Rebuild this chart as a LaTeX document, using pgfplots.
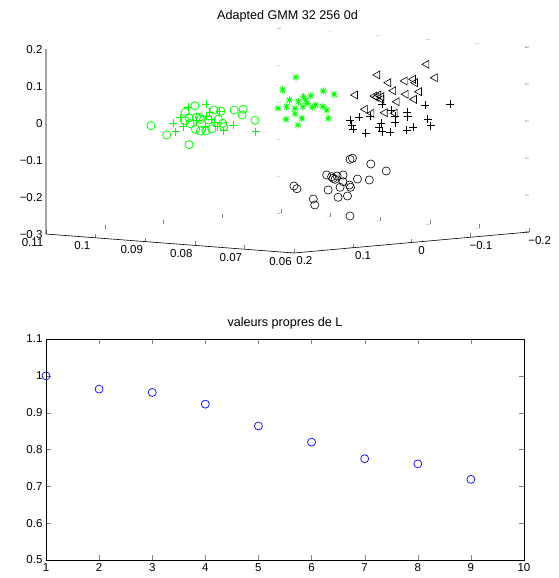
\documentclass[border=0pt]{standalone}
\usepackage{fontspec}
\setmainfont{Liberation Sans}
\usepackage{pgfplots}
\pgfplotsset{compat=1.18}

% matlab '*' marker: plus and cross together
\pgfdeclareplotmark{mstar}{%
  \pgfpathmoveto{\pgfqpoint{-\pgfplotmarksize}{0pt}}%
  \pgfpathlineto{\pgfqpoint{\pgfplotmarksize}{0pt}}%
  \pgfpathmoveto{\pgfqpoint{0pt}{-\pgfplotmarksize}}%
  \pgfpathlineto{\pgfqpoint{0pt}{\pgfplotmarksize}}%
  \pgfpathmoveto{\pgfqpoint{-0.707\pgfplotmarksize}{-0.707\pgfplotmarksize}}%
  \pgfpathlineto{\pgfqpoint{0.707\pgfplotmarksize}{0.707\pgfplotmarksize}}%
  \pgfpathmoveto{\pgfqpoint{-0.707\pgfplotmarksize}{0.707\pgfplotmarksize}}%
  \pgfpathlineto{\pgfqpoint{0.707\pgfplotmarksize}{-0.707\pgfplotmarksize}}%
  \pgfusepathqstroke}
% plain plus, same construction
\pgfdeclareplotmark{mplus}{%
  \pgfpathmoveto{\pgfqpoint{-\pgfplotmarksize}{0pt}}%
  \pgfpathlineto{\pgfqpoint{\pgfplotmarksize}{0pt}}%
  \pgfpathmoveto{\pgfqpoint{0pt}{-\pgfplotmarksize}}%
  \pgfpathlineto{\pgfqpoint{0pt}{\pgfplotmarksize}}%
  \pgfusepathqstroke}

\definecolor{mgreen}{rgb}{0,1,0}

\pgfplotsset{
  mlab/.style={
    tick label style={font=\fontsize{11.5}{13}\selectfont},
    title style={font=\fontsize{12.6}{14}\selectfont},
    /pgf/number format/assume math mode=true,
    scaled ticks=false,
    clip=false,
  },
}

\begin{document}
\begin{tikzpicture}
\useasboundingbox (0pt,0pt) rectangle (559pt,-578pt);

% ---- top: 3-D scatter
\begin{axis}[
  mlab,
  at={(46pt,-253pt)}, anchor=south west,
  x={(-4960pt,380pt)}, y={(-587.5pt,-52.5pt)}, z={(0pt,370pt)},
  xmin=0.06, xmax=0.11, ymin=-0.2, ymax=0.2, zmin=-0.3, zmax=0.2,
  xtick={0.06,0.07,0.08,0.09,0.1,0.11},
  xticklabels={0.06,0.07,0.08,0.09,0.1,0.11},
  ytick={-0.2,-0.1,0,0.1,0.2},
  yticklabels={−0.2,−0.1,0,0.1,0.2},
  ztick={-0.3,-0.2,-0.1,0,0.1,0.2},
  zticklabels={−0.3,−0.2,−0.1,0,0.1,0.2},
  x tick label style={xshift=-6pt},
  y tick label style={xshift=3pt},
  axis line style={draw=none},
  tick pos=left,
  major tick length=4pt,
  title={Adapted GMM 32 256 0d},
  title style={yshift=-4pt},
]
\addplot3[black, line width=0.6pt, no marks] coordinates {
  (0.11,0.2,0.2) (0.11,0.2,-0.3) (0.06,0.2,-0.3) (0.06,-0.2,-0.3)};

% green circles
\addplot3[only marks, mark=o, mgreen, mark size=4.1pt, line width=0.8pt] coordinates {
(0.1007,0.1,-0.0119) (0.0975,0.1,-0.0338) (0.0930,0.1,-0.0553) (0.0938,0.1,0.0314)
(0.0918,0.1,0.0512) (0.0938,0.1,0.0086) (0.0930,0.1,0.0176) (0.0928,0.1,0.0016)
(0.0915,0.1,0.0203) (0.0909,0.1,0.0208) (0.0907,0.1,0.0157) (0.0917,0.1,-0.0125)
(0.0907,0.1,-0.0159) (0.0896,0.1,-0.0148) (0.0884,0.1,-0.0075) (0.0880,0.1,0.0436)
(0.0866,0.1,0.0422) (0.0862,0.1,0.0094) (0.0860,0.1,0.0005) (0.0871,0.1,0.0193)
(0.0839,0.1,0.0477) (0.0821,0.1,0.0515) (0.0823,0.1,0.0359) (0.0797,0.1,0.0242)
(0.0891,0.1,0.0154)
};
% green plus
\addplot3[only marks, mark=mplus, draw=mgreen, mark options={draw=mgreen}, mark size=4pt, line width=0.8pt] coordinates {
(0.0896,0.1,0.0572) (0.0932,0.1,0.0455) (0.0962,0.1,-0.0008) (0.0957,0.1,-0.0230)
(0.0948,0.1,0.0157) (0.0888,0.1,0.0365) (0.0896,0.1,0.0257) (0.0868,0.1,0.0402)
(0.0878,0.1,0.0095) (0.0873,0.1,-0.0009) (0.0860,0.1,-0.0103) (0.0841,0.1,0.0070)
(0.0796,0.1,-0.0064) (0.0915,0.1,0.0111) (0.0884,0.1,0.0179) (0.0942,0.1,-0.0079)
(0.0898,0.1,-0.0034)
};
% green stars
\addplot3[only marks, mark=mstar, mgreen, mark size=3.6pt, line width=0.8pt] coordinates {
(0.0833,0,0.1226) (0.0860,0,0.0855) (0.0778,0,0.0912) (0.0756,0,0.0845)
(0.0803,0,0.0759) (0.0818,0,0.0716) (0.0846,0,0.0598) (0.0828,0,0.0571)
(0.0810,0,0.0546) (0.0793,0,0.0518) (0.0779,0,0.0486) (0.0852,0,0.0412)
(0.0835,0,0.0386) (0.0819,0,0.0445) (0.0771,0,0.0405) (0.0835,0,0.0232)
(0.0853,0,0.0070) (0.0821,0,0.0129) (0.0768,0,0.0185) (0.0829,0,-0.0060)
(0.0869,0,0.0351) (0.0800,0,0.0449) (0.0813,0,0.0633)
};
% black triangles
\addplot3[only marks, mark=triangle, mark options={rotate=90}, black, mark size=4.6pt, line width=0.6pt] coordinates {
(0.0688,-0.1,0.1584) (0.0787,-0.1,0.1194) (0.0671,-0.1,0.1239) (0.0765,-0.1,0.1007)
(0.0732,-0.1,0.1088) (0.0715,-0.1,0.1151) (0.0711,-0.1,0.1063) (0.0755,-0.1,0.0801)
(0.0730,-0.1,0.0731) (0.0703,-0.1,0.0828) (0.0832,-0.1,0.0606) (0.0793,-0.1,0.0619)
(0.0785,-0.1,0.0654) (0.0779,-0.1,0.0615) (0.0779,-0.1,0.0545) (0.0713,-0.1,0.0612)
(0.0748,-0.1,0.0511) (0.0812,-0.1,0.0240) (0.0772,-0.1,0.0190) (0.0799,-0.1,0.0146)
(0.0752,-0.1,0.0194) (0.0789,-0.1,0.0589)
};
% black plus
\addplot3[only marks, mark=mplus, black, mark size=4pt, line width=0.6pt] coordinates {
(0.0641,-0.1,0.0559) (0.0691,-0.1,0.0473) (0.0727,-0.1,0.0255) (0.0726,-0.1,0.0129)
(0.0842,-0.1,-0.0080) (0.0824,-0.1,0.0012) (0.0802,-0.1,0.0061) (0.0759,-0.1,0.0276)
(0.0752,-0.1,0.0121) (0.0752,-0.1,-0.0061) (0.0686,-0.1,0.0108) (0.0680,-0.1,-0.0067)
(0.0715,-0.1,-0.0146) (0.0728,-0.1,-0.0233) (0.0783,-0.1,-0.0228) (0.0780,-0.1,-0.0105)
(0.0811,-0.1,-0.0407) (0.0836,-0.1,-0.0325) (0.0777,-0.1,-0.0329) (0.0762,-0.1,-0.0330)
(0.0839,-0.1,-0.0212) (0.0777,-0.1,0.0412)
};
% black circles
\addplot3[only marks, mark=o, black, mark size=4.1pt, line width=0.6pt] coordinates {
(0.0724,0,-0.0879) (0.0719,0,-0.0846) (0.0682,0,-0.0963) (0.0651,0,-0.1120)
(0.0771,0,-0.1351) (0.0761,0,-0.1387) (0.0758,0,-0.1427) (0.0750,0,-0.1356)
(0.0738,0,-0.1317) (0.0738,0,-0.1498) (0.0709,0,-0.1396) (0.0685,0,-0.1398)
(0.0725,0,-0.1575) (0.0723,0,-0.1634) (0.0768,0,-0.1753) (0.0744,0,-0.1656)
(0.0837,0,-0.1716) (0.0831,0,-0.1784) (0.0798,0,-0.2028) (0.0795,0,-0.2186)
(0.0748,0,-0.1930) (0.0729,0,-0.1875) (0.0724,0,-0.2411) (0.0754,0,-0.1450)
};
\end{axis}

% ---- bottom: eigenvalues
\begin{axis}[
  mlab,
  at={(46pt,-560pt)}, anchor=south west,
  width=478pt, height=221pt, scale only axis,
  xmin=1, xmax=10, ymin=0.5, ymax=1.1,
  xtick={1,2,3,4,5,6,7,8,9,10},
  ytick={0.5,0.6,0.7,0.8,0.9,1,1.1},
  yticklabels={0.5,0.6,0.7,0.8,0.9,1,1.1},
  tick align=inside, major tick length=5pt,
  axis line style={line width=0.9pt},
  title={valeurs propres de L},
]
\addplot[only marks, mark=o, blue, mark size=4pt, line width=0.7pt] coordinates {
  (1,1.000) (2,0.964) (3,0.955) (4,0.923) (5,0.864)
  (6,0.820) (7,0.775) (8,0.761) (9,0.719)
};
\end{axis}
\end{tikzpicture}
\end{document}
